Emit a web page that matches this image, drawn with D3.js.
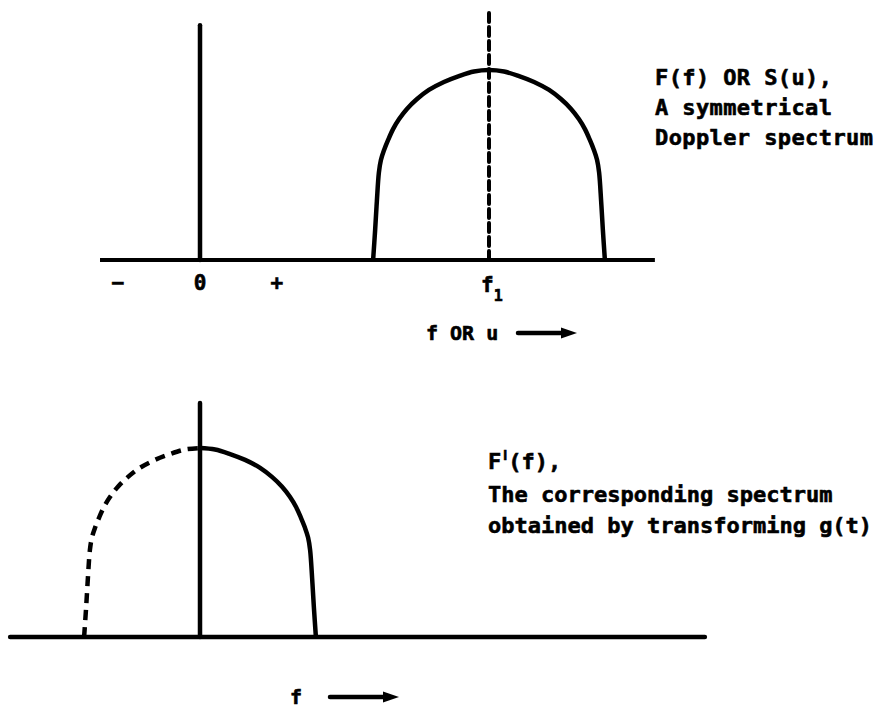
<!DOCTYPE html>
<html>
<head>
<meta charset="utf-8">
<script src="https://cdn.jsdelivr.net/npm/d3@7"></script>
<style>
  body { margin: 0; background: #fff; }
  text { font-family: "DejaVu Sans Mono", monospace; font-weight: bold; fill: #000; stroke: #000; stroke-width: 0.6px; }
</style>
</head>
<body>
<div id="chart"></div>
<script>
// half profile of the spectrum: offset from its centre (in units of f1) and relative level
var offsets = [0, 0.052, 0.104, 0.156, 0.208, 0.249, 0.284, 0.311, 0.332, 0.349, 0.363, 0.374, 0.381, 0.388, 0.394, 0.401];
var levels  = [1, 0.992, 0.968, 0.937, 0.895, 0.847, 0.795, 0.742, 0.689, 0.632, 0.579, 0.526, 0.46, 0.31, 0.158, 0];
var f1 = 1;

// axis extents (frequency units) and height of the marker lines (relative level)
var topAxis = [-0.346, 1.574];
var bottomAxis = [-0.657, 1.747];
var zeroLineTop = 1.235, f1LineTop = 1.305, zeroLineBottom = 1.238;

// tick labels under the upper axis
var topTickValues = [-0.284, 0, 0.266];
var topTickLabels = ["\u2212", "0", "+"];

var topLabel = ["F(f) OR S(u),", "A symmetrical", "Doppler spectrum"];
var bottomLabel = ["The corresponding spectrum", "obtained by transforming g(t)"];

var width = 881, height = 710;

var svg = d3.select("#chart").append("svg")
  .attr("width", width)
  .attr("height", height);

// upper panel scales
var xTop = d3.scaleLinear().domain([0, 1]).range([200, 489]);
var yTop = d3.scaleLinear().domain([0, 1]).range([260, 70]);
// lower panel scales
var xBot = d3.scaleLinear().domain([0, 1]).range([200, 489]);
var yBot = d3.scaleLinear().domain([0, 1]).range([637, 448]);

// build the point lists from the half profile
var dome = [];
for (var i = offsets.length - 1; i > 0; i--) dome.push({f: f1 - offsets[i], a: levels[i]});
for (var i = 0; i < offsets.length; i++) dome.push({f: f1 + offsets[i], a: levels[i]});

var rightHalf = offsets.map(function(o, i) { return {f: o, a: levels[i]}; });
var leftHalf = offsets.map(function(o, i) { return {f: -o, a: levels[i]}; }).reverse();

function lineFor(x, y) {
  return d3.line()
    .x(function(d) { return x(d.f); })
    .y(function(d) { return y(d.a); })
    .curve(d3.curveCatmullRom.alpha(0.5));
}

// ---- upper panel ----
var upper = svg.append("g");

upper.append("line")
  .attr("x1", xTop(topAxis[0])).attr("x2", xTop(topAxis[1]))
  .attr("y1", yTop(0)).attr("y2", yTop(0))
  .attr("stroke", "#000").attr("stroke-width", 4);

upper.append("line")
  .attr("x1", xTop(0)).attr("x2", xTop(0))
  .attr("y1", yTop(0)).attr("y2", yTop(zeroLineTop))
  .attr("stroke", "#000").attr("stroke-width", 4.5).attr("stroke-linecap", "round");

upper.append("path")
  .datum(dome)
  .attr("d", lineFor(xTop, yTop))
  .attr("fill", "none").attr("stroke", "#000").attr("stroke-width", 4.5)
  .attr("stroke-linejoin", "round");

upper.append("line")
  .attr("x1", xTop(f1)).attr("x2", xTop(f1))
  .attr("y1", yTop(0)).attr("y2", yTop(f1LineTop))
  .attr("stroke", "#000").attr("stroke-width", 4)
  .attr("stroke-dasharray", "9,5").attr("stroke-linecap", "round");

upper.selectAll("text.tick")
  .data(topTickValues)
  .enter().append("text")
  .attr("class", "tick")
  .attr("x", function(d) { return xTop(d); })
  .attr("y", 290)
  .attr("text-anchor", "middle")
  .style("font-size", "21px")
  .text(function(d, i) { return topTickLabels[i]; });

var f1Label = upper.append("text")
  .attr("x", xTop(f1) - 8).attr("y", 292)
  .style("font-size", "21px");
f1Label.append("tspan").text("f");
f1Label.append("tspan").attr("dy", 9).attr("dx", 0).style("font-size", "15px").text("1");

upper.append("text")
  .attr("x", 426).attr("y", 340)
  .style("font-size", "20px")
  .text("f OR u");
upper.append("line")
  .attr("x1", 518).attr("x2", 566)
  .attr("y1", 333).attr("y2", 333)
  .attr("stroke", "#000").attr("stroke-width", 4.5).attr("stroke-linecap", "round");
upper.append("path")
  .attr("d", "M561,327.5 L577,333 L561,338.5 Z")
  .attr("fill", "#000");

upper.selectAll("text.label")
  .data(topLabel)
  .enter().append("text")
  .attr("class", "label")
  .attr("x", 655)
  .attr("y", function(d, i) { return 85 + i * 30; })
  .style("font-size", "22px")
  .style("letter-spacing", "0.4px")
  .text(function(d) { return d; });

// ---- lower panel ----
var lower = svg.append("g");

lower.append("line")
  .attr("x1", xBot(bottomAxis[0])).attr("x2", xBot(bottomAxis[1]))
  .attr("y1", yBot(0)).attr("y2", yBot(0))
  .attr("stroke", "#000").attr("stroke-width", 4.5).attr("stroke-linecap", "round");

lower.append("line")
  .attr("x1", xBot(0)).attr("x2", xBot(0))
  .attr("y1", yBot(0)).attr("y2", yBot(zeroLineBottom))
  .attr("stroke", "#000").attr("stroke-width", 4.5).attr("stroke-linecap", "round");

lower.append("path")
  .datum(rightHalf)
  .attr("d", lineFor(xBot, yBot))
  .attr("fill", "none").attr("stroke", "#000").attr("stroke-width", 4.5)
  .attr("stroke-linejoin", "round");

lower.append("path")
  .datum(leftHalf)
  .attr("d", lineFor(xBot, yBot))
  .attr("fill", "none").attr("stroke", "#000").attr("stroke-width", 4.5)
  .attr("stroke-dasharray", "10,7");

var fPrime = lower.append("text")
  .attr("x", 488).attr("y", 469)
  .style("font-size", "22px");
fPrime.append("tspan").text("F");
fPrime.append("tspan").attr("dy", -9).attr("dx", 2)
  .style("font-size", "14px").style("font-family", "Liberation Sans").text("I");
fPrime.append("tspan").attr("dy", 9).attr("dx", 1).text("(f),");

lower.selectAll("text.label")
  .data(bottomLabel)
  .enter().append("text")
  .attr("class", "label")
  .attr("x", 488)
  .attr("y", function(d, i) { return 502 + i * 31; })
  .style("font-size", "22px")
  .text(function(d) { return d; });

lower.append("text")
  .attr("x", 290).attr("y", 704)
  .style("font-size", "20px")
  .text("f");
lower.append("line")
  .attr("x1", 330).attr("x2", 388)
  .attr("y1", 697).attr("y2", 697)
  .attr("stroke", "#000").attr("stroke-width", 4.5).attr("stroke-linecap", "round");
lower.append("path")
  .attr("d", "M383,691.5 L399,697 L383,702.5 Z")
  .attr("fill", "#000");
</script>
</body>
</html>
